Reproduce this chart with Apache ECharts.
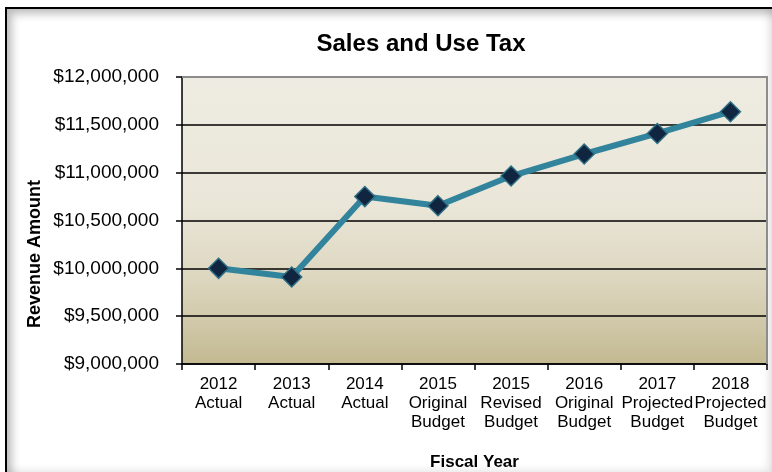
<!DOCTYPE html>
<html>
<head>
<meta charset="utf-8">
<script src="https://cdn.jsdelivr.net/npm/echarts@6/dist/echarts.min.js"></script>
<style>
  html, body { margin: 0; padding: 0; background: #fff; }
  #wrap { position: relative; width: 772px; height: 472px; overflow: hidden; }
  #frame {
    position: absolute; left: 5px; top: 7px; width: 770px; height: 470px;
    border: 2px solid #000; box-sizing: border-box;
    box-shadow: inset 5px 5px 8px rgba(0,0,0,0.25), inset -4px -4px 8px rgba(0,0,0,0.12);
  }
  #chart { position: absolute; left: 0; top: 0; width: 772px; height: 472px; }
</style>
</head>
<body>
<div id="wrap">
  <div id="frame"></div>
  <div id="chart"></div>
</div>
<script>
// Fiscal year categories (two/three-line labels)
const categories = [
  '2012\nActual',
  '2013\nActual',
  '2014\nActual',
  '2015\nOriginal\nBudget',
  '2015\nRevised\nBudget',
  '2016\nOriginal\nBudget',
  '2017\nProjected\nBudget',
  '2018\nProjected\nBudget'
];

// Sales and use tax revenue, dollars
const revenue = [10000000, 9910000, 10750000, 10655000, 10965000, 11195000, 11410000, 11637000];

// Value axis range and step
const yMin = 9000000;
const yMax = 12000000;
const yStep = 500000;

const fmtDollars = v => '$' + Math.round(v).toString().replace(/\B(?=(\d{3})+(?!\d))/g, ',');

const chart = echarts.init(document.getElementById('chart'), null, { renderer: 'canvas' });

const font = 'Liberation Sans, Arial, Helvetica, sans-serif';

chart.setOption({
  backgroundColor: 'transparent',
  animation: false,
  title: {
    text: 'Sales and Use Tax',
    left: 416, top: 27, textAlign: 'center',
    textStyle: { fontFamily: font, fontSize: 24, fontWeight: 'bold', color: '#000' }
  },
  grid: {
    left: 182, right: 5, top: 77, bottom: 108,
    containLabel: false,
    outerBoundsMode: 'none',
    show: true,
    borderWidth: 0,
    backgroundColor: {
      type: 'linear', x: 0, y: 0, x2: 0, y2: 1,
      colorStops: [
        { offset: 0, color: '#EEECE2' },
        { offset: 0.45, color: '#EAE6D8' },
        { offset: 0.7, color: '#DDD7C0' },
        { offset: 1, color: '#C3BA92' }
      ]
    }
  },
  xAxis: {
    type: 'category',
    data: categories,
    boundaryGap: true,
    name: 'Fiscal Year',
    nameLocation: 'middle',
    nameGap: 90,
    nameTextStyle: { fontFamily: font, fontSize: 17, fontWeight: 'bold', color: '#000' },
    axisLine: { show: true, lineStyle: { color: '#000', width: 1.5 } },
    axisTick: { show: true, alignWithLabel: false, length: 6, lineStyle: { color: '#000', width: 1.5 } },
    axisLabel: {
      interval: 0, margin: 11,
      fontFamily: font, fontSize: 17, lineHeight: 19, color: '#000'
    },
    splitLine: { show: false }
  },
  yAxis: {
    type: 'value',
    min: yMin, max: yMax, interval: yStep,
    axisLine: { show: true, lineStyle: { color: '#000', width: 1.5 } },
    axisTick: { show: true, length: 6, lineStyle: { color: '#000', width: 1.5 } },
    axisLabel: {
      margin: 23,
      fontFamily: font, fontSize: 19, color: '#000',
      formatter: fmtDollars
    },
    splitLine: { show: true, lineStyle: { color: '#000', width: 1.5 } }
  },
  series: [{
    type: 'line',
    data: revenue,
    symbol: 'diamond',
    symbolSize: 20,
    lineStyle: { color: '#31849B', width: 6 },
    itemStyle: { color: '#10253F', borderColor: '#2E6F86', borderWidth: 1.5 },
    z: 5
  }],
  graphic: [
    // light grey rule closing the plot area on the top and right
    {
      type: 'polyline',
      shape: { points: [[182, 77], [767, 77], [767, 364]] },
      style: { stroke: '#8C8C8C', lineWidth: 2, fill: null },
      z: 1
    },
    // value axis title, set lower than the plot's middle
    {
      type: 'text',
      x: 35, y: 254,
      rotation: Math.PI / 2,
      style: {
        text: 'Revenue Amount',
        fontFamily: font, fontSize: 18, fontWeight: 'bold', fill: '#000',
        align: 'center', verticalAlign: 'middle'
      }
    }
  ]
});
</script>
</body>
</html>
